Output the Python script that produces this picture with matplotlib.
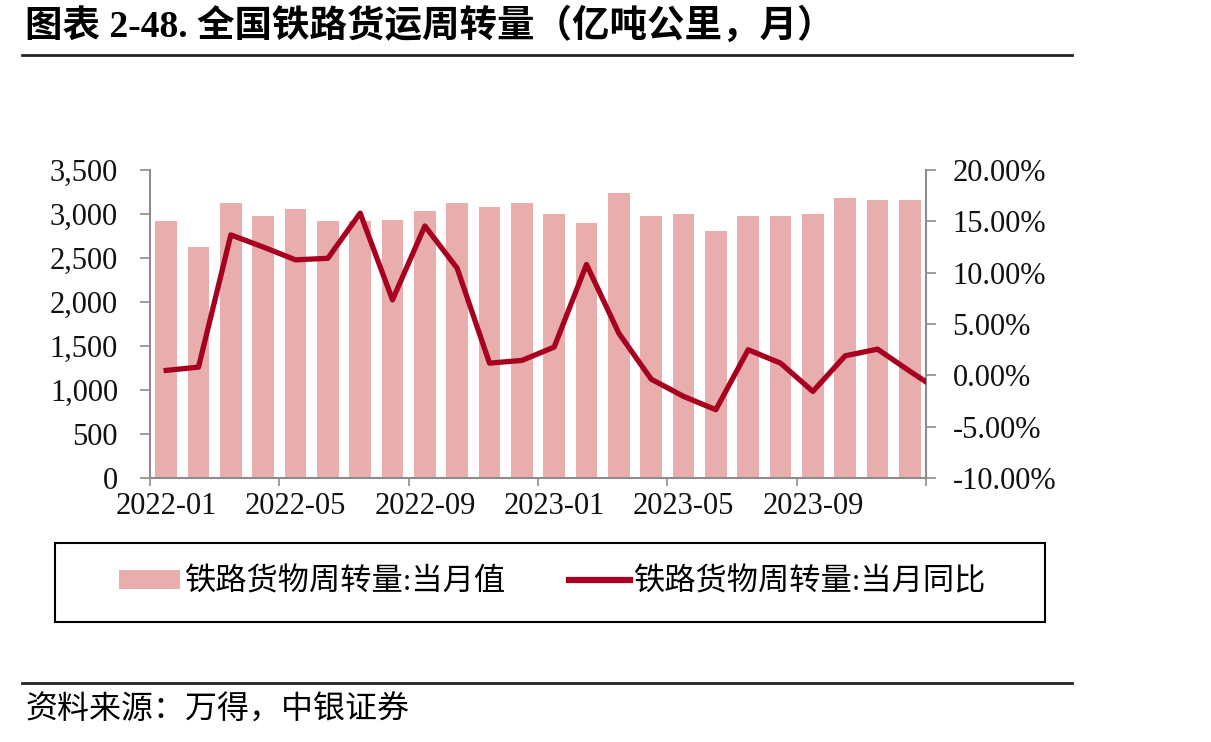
import matplotlib
matplotlib.use("Agg")
import matplotlib.pyplot as plt
import matplotlib.ticker as mticker
from matplotlib.lines import Line2D
from matplotlib.patches import Patch, Rectangle

# --- Data ---
months = ["2022-01", "2022-02", "2022-03", "2022-04", "2022-05", "2022-06",
          "2022-07", "2022-08", "2022-09", "2022-10", "2022-11", "2022-12",
          "2023-01", "2023-02", "2023-03", "2023-04", "2023-05", "2023-06",
          "2023-07", "2023-08", "2023-09", "2023-10", "2023-11", "2023-12"]
volume = [2915, 2628, 3121, 2973, 3057, 2915, 2915, 2935, 3034, 3121, 3076, 3121,
          3000, 2894, 3242, 2974, 3000, 2811, 2974, 2974, 3000, 3182, 3159, 3159]
# YoY in %, last value (next month) only visible as the clipped end of the line
yoy = [0.48, 0.8, 13.68, 12.5, 11.25, 11.4, 15.8, 7.35, 14.55, 10.43, 1.19, 1.45,
       2.75, 10.8, 4.1, -0.37, -2.05, -3.35, 2.49, 1.19, -1.57, 1.9, 2.55, 0.4, -1.67]

BAR_COLOR = "#E8ADAD"
LINE_COLOR = "#A8001F"
AXIS_COLOR = "#8C8C8C"
CJK = ["Liberation Serif", "Noto Sans CJK SC", "DejaVu Sans"]
SERIF = "Liberation Serif"

fig = plt.figure(figsize=(12.11, 7.42), dpi=100)
ax = fig.add_axes([150 / 1211, 1 - 478 / 742, 776 / 1211, 308 / 742])
ax2 = ax.twinx()

x = list(range(len(months)))
ax.bar(x, volume, width=0.68, color=BAR_COLOR, zorder=2)
ax2.plot(list(range(len(yoy))), yoy, color=LINE_COLOR, lw=3.8, zorder=3)

ax.set_xlim(-0.5, len(months) - 0.5)
ax.set_ylim(0, 3500)
ax2.set_ylim(-10, 20)
ax.set_zorder(ax2.get_zorder() - 1)
ax.patch.set_visible(False)

ax.yaxis.set_major_locator(mticker.MultipleLocator(500))
ax.yaxis.set_major_formatter(mticker.FuncFormatter(lambda v, p: f"{int(v):,}"))
ax2.yaxis.set_major_locator(mticker.MultipleLocator(5))
ax2.yaxis.set_major_formatter(mticker.FuncFormatter(lambda v, p: f"{v:.2f}%"))

# x: tick marks on category boundaries, labels at every 4th month
ax.set_xticks([i - 0.5 for i in range(0, len(months) + 1, 4)])
ax.set_xticklabels([])
ax.set_xticks(list(range(0, len(months), 4)), minor=True)
ax.set_xticklabels(months[::4], minor=True)
ax.tick_params(axis="x", which="major", length=6, color=AXIS_COLOR, width=1.2)
ax.tick_params(axis="x", which="minor", length=0, pad=10)

for a in (ax, ax2):
    for s in a.spines.values():
        s.set_visible(False)
ax.spines["left"].set_visible(True)
ax.spines["bottom"].set_visible(True)
ax2.spines["right"].set_visible(True)
for s in (ax.spines["left"], ax.spines["bottom"], ax2.spines["right"]):
    s.set_color(AXIS_COLOR)
    s.set_linewidth(1.5)

ax.tick_params(axis="y", length=7, color=AXIS_COLOR, width=1.2, pad=16)
ax2.tick_params(axis="y", length=7, color=AXIS_COLOR, width=1.2, pad=12)

for lab in ax.get_xticklabels(minor=True) + ax.get_yticklabels() + ax2.get_yticklabels():
    lab.set_fontfamily(SERIF)
    lab.set_fontsize(22)
    lab.set_color("#111111")

# title and rules
fig.text(25 / 1211, 1 - 26 / 742, "图表 2-48. 全国铁路货运周转量（亿吨公里，月）",
         fontsize=27, fontweight="bold", family=CJK, va="center", ha="left")
fig.add_artist(Line2D([22 / 1211, 1072 / 1211], [1 - 55 / 742, 1 - 55 / 742],
                      color="#222222", lw=2))
fig.add_artist(Line2D([22 / 1211, 1072 / 1211], [1 - 683 / 742, 1 - 683 / 742],
                      color="#222222", lw=2))
fig.text(25 / 1211, 1 - 711 / 742, "资料来源：万得，中银证券", fontsize=23,
         family=CJK, style="italic", va="center", ha="left")

# legend with its own frame
fig.add_artist(Rectangle((55 / 1211, 1 - 622 / 742), 990 / 1211, 79 / 742,
                         transform=fig.transFigure, fill=False,
                         edgecolor="black", lw=1.5))
handles = [Patch(facecolor=BAR_COLOR, edgecolor="none"),
           Line2D([], [], color=LINE_COLOR, lw=4.5)]
labels = ["铁路货物周转量:当月值", "铁路货物周转量:当月同比"]
fig.legend(handles, labels, loc="center", ncol=2,
           bbox_to_anchor=(553 / 1211, 1 - 583 / 742),
           prop={"family": CJK, "size": 22.5}, frameon=False,
           handlelength=1.95, handleheight=0.55, handletextpad=0.15,
           columnspacing=2.0)

fig.savefig("out.png", dpi=100)
